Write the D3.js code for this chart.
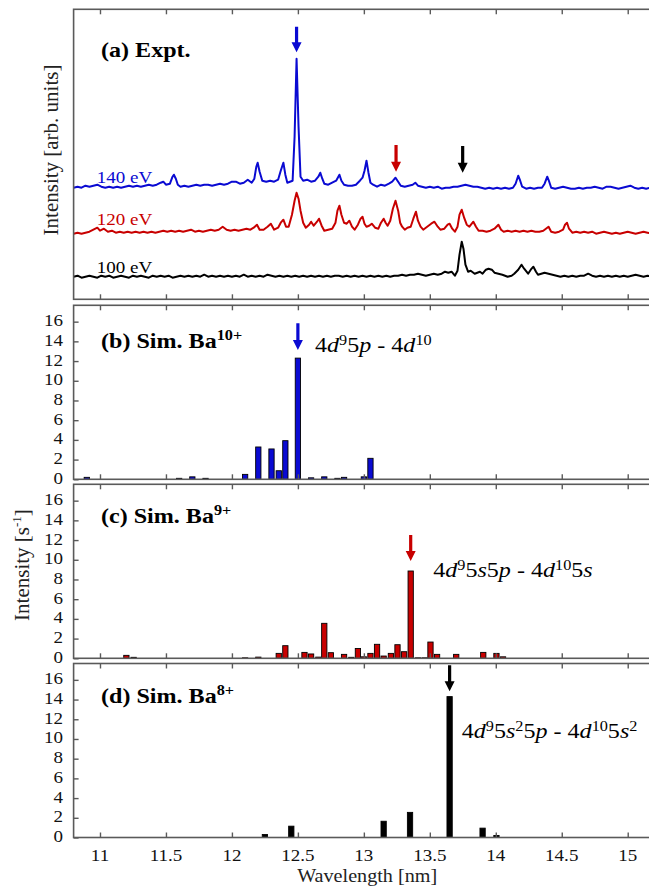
<!DOCTYPE html>
<html>
<head>
<meta charset="utf-8">
<script src="https://cdn.jsdelivr.net/npm/d3@7"></script>
<style>
  html, body { margin: 0; padding: 0; background: #fff; }
  svg { display: block; font-family: "Liberation Serif", "Times New Roman", serif; }
</style>
</head>
<body>
<svg id="chart" width="649" height="890"></svg>
<script>
// ---- axis ticks ----
const wavelengthTicks = [11, 11.5, 12, 12.5, 13, 13.5, 14, 14.5, 15];
const intensityTicks = [0, 2, 4, 6, 8, 10, 12, 14, 16];

// ---- (a) measured spectra: [wavelength nm, signal above trace baseline] ----
const expt140 = [
  [10.80,-1],[10.83,0],[10.86,-1],[10.89,1],[10.92,0],[10.95,1],[10.98,2],[11.01,0],[11.04,-1],[11.07,0],
  [11.10,-1],[11.13,0],[11.16,-1],[11.19,0],[11.22,1],[11.25,0],[11.28,1],[11.31,0],[11.34,1],[11.37,2],
  [11.40,1],[11.43,2],[11.46,4],[11.48,5],[11.50,2],[11.53,3],[11.55,10],[11.56,12],[11.575,8],[11.59,2],
  [11.61,0],[11.64,1],[11.67,0],[11.70,1],[11.73,2],[11.76,1],[11.79,2],[11.82,2],[11.85,1],[11.88,2],
  [11.91,3],[11.94,2],[11.97,3],[12.00,5],[12.03,5],[12.06,3],[12.09,4],[12.12,7],[12.15,4],[12.17,8],
  [12.185,20],[12.195,24],[12.21,15],[12.23,6],[12.26,5],[12.29,6],[12.32,5],[12.35,7],[12.37,16],[12.39,24],
  [12.405,12],[12.42,4],[12.44,5],[12.46,6],[12.475,50],[12.49,128],[12.505,60],[12.52,10],[12.54,6],[12.57,7],
  [12.60,5],[12.63,6],[12.655,10],[12.67,14],[12.685,8],[12.70,3],[12.73,2],[12.76,4],[12.79,6],[12.815,12],
  [12.83,6],[12.85,2],[12.88,1],[12.91,1],[12.94,2],[12.97,6],[12.99,9],[13.005,16],[13.02,26],[13.035,14],
  [13.05,4],[13.07,2],[13.10,0],[13.13,2],[13.16,1],[13.19,3],[13.215,5],[13.24,9],[13.26,5],[13.28,1],
  [13.31,0],[13.34,1],[13.37,2],[13.39,4],[13.41,1],[13.44,0],[13.47,-1],[13.50,0],[13.53,-1],[13.56,0],
  [13.59,-2],[13.62,-1],[13.65,-1],[13.68,0],[13.71,0],[13.74,1],[13.77,2],[13.80,1],[13.83,0],[13.86,0],
  [13.89,-1],[13.92,-2],[13.95,-1],[13.98,-2],[14.01,-1],[14.04,-2],[14.07,-1],[14.10,-2],[14.13,-1],[14.15,3],
  [14.17,11],[14.185,6],[14.20,0],[14.23,-2],[14.26,-1],[14.29,-2],[14.32,-1],[14.35,-1],[14.37,3],[14.39,10],
  [14.405,5],[14.42,-1],[14.45,-2],[14.48,-1],[14.51,0],[14.54,-1],[14.57,-2],[14.60,-2],[14.63,-1],[14.66,-2],
  [14.69,-1],[14.72,-1],[14.75,0],[14.78,-1],[14.81,-2],[14.84,0],[14.87,0],[14.90,-1],[14.93,-2],[14.96,-1],
  [14.99,0],[15.02,1],[15.05,-1],[15.08,-2],[15.11,-1],[15.14,-2],[15.17,-1],[15.20,-2],[15.25,-1]
];
const expt120 = [
  [10.80,-1],[10.83,0],[10.86,-1],[10.89,0],[10.92,1],[10.95,3],[10.98,5],[11.00,2],[11.03,4],[11.06,1],
  [11.09,2],[11.12,0],[11.15,1],[11.18,0],[11.21,1],[11.24,0],[11.27,1],[11.30,0],[11.33,1],[11.36,0],
  [11.39,1],[11.42,0],[11.45,1],[11.48,2],[11.51,1],[11.54,2],[11.57,1],[11.60,2],[11.63,1],[11.66,2],
  [11.69,3],[11.72,1],[11.75,2],[11.78,1],[11.81,2],[11.84,3],[11.87,2],[11.90,3],[11.93,6],[11.96,3],
  [11.99,2],[12.02,3],[12.05,2],[12.08,3],[12.11,4],[12.14,3],[12.165,5],[12.19,8],[12.21,3],[12.24,3],
  [12.27,6],[12.295,9],[12.32,3],[12.35,5],[12.37,10],[12.39,13],[12.41,6],[12.43,6],[12.455,18],[12.475,32],
  [12.49,40],[12.505,34],[12.52,22],[12.54,10],[12.56,5],[12.585,8],[12.60,11],[12.62,7],[12.645,11],[12.66,14],
  [12.68,7],[12.70,2],[12.73,3],[12.76,4],[12.785,10],[12.80,22],[12.815,27],[12.83,18],[12.85,10],[12.87,9],
  [12.89,12],[12.91,6],[12.93,3],[12.955,8],[12.975,14],[12.99,16],[13.005,9],[13.02,6],[13.04,7],[13.06,9],
  [13.085,5],[13.11,4],[13.13,10],[13.15,14],[13.165,10],[13.18,7],[13.20,12],[13.22,24],[13.24,32],[13.26,22],
  [13.275,10],[13.29,6],[13.31,3],[13.33,5],[13.355,6],[13.375,14],[13.395,21],[13.41,12],[13.43,6],[13.45,3],
  [13.48,6],[13.51,9],[13.535,11],[13.56,6],[13.58,3],[13.61,4],[13.635,8],[13.65,9],[13.67,4],[13.69,1],
  [13.71,6],[13.725,18],[13.742,23],[13.76,15],[13.78,8],[13.80,6],[13.83,11],[13.85,6],[13.87,2],[13.90,2],
  [13.93,1],[13.96,2],[13.99,4],[14.02,8],[14.04,3],[14.06,1],[14.09,2],[14.12,1],[14.15,2],[14.18,1],
  [14.21,2],[14.24,1],[14.27,2],[14.30,1],[14.33,1],[14.36,2],[14.38,4],[14.40,6],[14.42,1],[14.45,0],
  [14.48,1],[14.51,3],[14.525,8],[14.54,10],[14.555,4],[14.58,0],[14.61,1],[14.64,0],[14.67,1],[14.70,0],
  [14.73,1],[14.76,-1],[14.79,0],[14.82,1],[14.85,0],[14.88,-1],[14.91,0],[14.94,-1],[14.97,0],[15.00,1],
  [15.03,0],[15.06,-1],[15.09,0],[15.12,1],[15.15,0],[15.18,-1],[15.21,0],[15.25,1]
];
const expt100 = [
  [10.80,0],[10.83,1],[10.86,-1],[10.89,0],[10.92,1],[10.95,0],[10.98,-1],[11.01,1],[11.04,0],[11.07,1],
  [11.10,-1],[11.13,0],[11.16,1],[11.19,0],[11.22,-1],[11.25,1],[11.28,0],[11.31,1],[11.34,0],[11.37,-1],
  [11.40,1],[11.43,0],[11.46,1],[11.49,0],[11.52,1],[11.55,-1],[11.58,0],[11.61,1],[11.64,0],[11.67,1],
  [11.70,0],[11.73,1],[11.76,0],[11.79,2],[11.82,0],[11.85,1],[11.88,0],[11.91,1],[11.94,0],[11.97,1],
  [12.00,0],[12.03,1],[12.06,0],[12.09,2],[12.12,0],[12.15,1],[12.18,0],[12.21,1],[12.24,0],[12.27,2],
  [12.30,1],[12.33,0],[12.36,1],[12.39,0],[12.42,1],[12.45,0],[12.48,1],[12.51,0],[12.54,1],[12.57,0],
  [12.60,1],[12.63,0],[12.66,1],[12.69,0],[12.72,1],[12.75,0],[12.78,1],[12.81,1],[12.84,0],[12.87,1],
  [12.90,0],[12.93,1],[12.96,0],[12.99,1],[13.02,0],[13.05,1],[13.08,0],[13.11,1],[13.14,0],[13.17,1],
  [13.20,0],[13.23,1],[13.26,1],[13.29,2],[13.32,1],[13.35,2],[13.38,2],[13.41,3],[13.44,2],[13.47,1],
  [13.50,2],[13.53,3],[13.56,2],[13.59,3],[13.615,5],[13.64,4],[13.665,5],[13.69,1],[13.71,6],[13.725,22],
  [13.742,35],[13.755,28],[13.77,12],[13.79,5],[13.81,6],[13.84,3],[13.86,4],[13.88,5],[13.90,3],[13.925,7],
  [13.945,8],[13.97,7],[13.99,4],[14.02,3],[14.05,2],[14.07,1],[14.09,0],[14.12,1],[14.14,3],[14.17,7],
  [14.195,12],[14.215,8],[14.245,3],[14.265,7],[14.285,10],[14.305,5],[14.32,2],[14.345,3],[14.37,4],[14.40,3],
  [14.43,2],[14.46,1],[14.49,0],[14.52,1],[14.55,0],[14.58,1],[14.61,0],[14.64,1],[14.67,1],[14.70,3],
  [14.73,1],[14.76,0],[14.79,1],[14.82,0],[14.85,1],[14.88,0],[14.91,1],[14.94,0],[14.97,1],[15.00,0],
  [15.03,1],[15.06,2],[15.09,1],[15.12,0],[15.15,1],[15.18,0],[15.21,1],[15.25,0]
];
const exptLabels = ["140 eV", "120 eV", "100 eV"];
const exptOffsets = [112.6, 66.6, 22.6];

// ---- (b)-(d) simulated line intensities: [wavelength nm, intensity s^-1] ----
const ba10Lines = [
  [10.90,0.2],[11.60,0.1],[11.70,0.25],[11.80,0.1],[12.10,0.5],[12.20,3.28],[12.30,3.08],[12.355,0.87],
  [12.405,3.92],[12.50,12.3],[12.60,0.15],[12.70,0.25],[12.80,0.1],[12.85,0.2],[13.00,0.25],[13.05,2.13]
];
const ba9Lines = [
  [11.20,0.3],[11.255,0.1],[12.10,0.05],[12.20,0.12],[12.355,0.5],[12.405,1.28],[12.55,0.6],[12.60,0.44],
  [12.655,0.12],[12.70,3.55],[12.75,0.57],[12.85,0.4],[12.905,0.1],[12.955,1.0],[13.00,0.15],[13.05,0.5],
  [13.10,1.42],[13.15,0.23],[13.205,0.5],[13.255,1.38],[13.305,0.67],[13.355,8.86],[13.41,0.05],[13.46,0.05],
  [13.505,1.65],[13.555,0.4],[13.70,0.4],[13.905,0.6],[14.005,0.5],[14.055,0.15]
];
const ba8Lines = [
  [12.25,0.3],[12.45,1.15],[13.15,1.65],[13.35,2.55],[13.65,14.3],[13.90,0.95],[14.005,0.2]
];

// ---- layout ----
const svg = d3.select("#chart");
const SX = 1.12;                    // horizontal stretch of the lettering
const frameColor = "#5a5a5a";
const blue = "#0a0ad2", red = "#c80000", black = "#000";

const x = d3.scaleLinear().domain([10.8, 15.25]).range([73.6, 660.7]);
const left = x.range()[0], right = x.range()[1];

const yA = d3.scaleLinear().domain([0, 290]).range([299.3, 9.3]);
const simY = [
  d3.scaleLinear().domain([0, 17.66]).range([479.3, 305.3]),
  d3.scaleLinear().domain([0, 17.66]).range([658.3, 484.3]),
  d3.scaleLinear().domain([0, 17.66]).range([837.5, 663.5])
];

function stretchedText(g, px, py, size) {
  return g.append("text")
    .attr("transform", `translate(${px},${py}) scale(${SX},1)`)
    .attr("font-size", size);
}

// text made of plain, italic and superscript pieces
function richText(g, px, py, size, segs, opts = {}) {
  const t = stretchedText(g, px, py, size);
  if (opts.bold) t.attr("font-weight", "bold");
  if (opts.anchor) t.attr("text-anchor", opts.anchor);
  const supSize = opts.supSize || size * 0.66;
  const raise = opts.raise || size * 0.36;
  let raised = false;
  segs.forEach(s => {
    const seg = typeof s === "string" ? { t: s } : s;
    const sp = t.append("tspan").text(seg.t);
    if (seg.i) sp.attr("font-style", "italic");
    if (seg.sup) {
      sp.attr("font-size", supSize);
      if (!raised) { sp.attr("dy", -raise); raised = true; }
    } else if (raised) {
      sp.attr("dy", raise); raised = false;
    }
  });
  return t;
}

function downArrow(g, cx, yTail, yTip, color) {
  const shaft = 1.6, half = 5, head = 10;
  const p = d3.path();
  p.moveTo(cx - shaft, yTail);
  p.lineTo(cx + shaft, yTail);
  p.lineTo(cx + shaft, yTip - head);
  p.lineTo(cx + half, yTip - head);
  p.lineTo(cx, yTip);
  p.lineTo(cx - half, yTip - head);
  p.lineTo(cx - shaft, yTip - head);
  p.closePath();
  g.append("path").attr("d", p.toString()).attr("fill", color);
}

function frame(top, bottom) {
  const g = svg.append("g");
  g.append("rect")
    .attr("x", left).attr("y", top)
    .attr("width", right - left).attr("height", bottom - top)
    .attr("fill", "none").attr("stroke", frameColor).attr("stroke-width", 1.6);
  // inward x ticks on the top and bottom edges
  g.append("g").attr("transform", `translate(0,${top})`)
    .call(d3.axisBottom(x).tickValues(wavelengthTicks).tickSize(5).tickFormat(""))
    .call(a => a.select(".domain").remove())
    .selectAll("line").attr("stroke", frameColor).attr("stroke-width", 1.4);
  g.append("g").attr("transform", `translate(0,${bottom})`)
    .call(d3.axisTop(x).tickValues(wavelengthTicks).tickSize(5).tickFormat(""))
    .call(a => a.select(".domain").remove())
    .selectAll("line").attr("stroke", frameColor).attr("stroke-width", 1.4);
  return g;
}

// ---------- panel (a) ----------
const gA = svg.append("g");
const traces = [expt140, expt120, expt100];
const traceColors = [blue, red, black];
traces.forEach((tr, i) => {
  const line = d3.line()
    .x(d => x(d[0]))
    .y(d => yA(d[1] + exptOffsets[i]));
  gA.append("path").datum(tr)
    .attr("d", line)
    .attr("fill", "none")
    .attr("stroke", traceColors[i])
    .attr("stroke-width", 2)
    .attr("stroke-linejoin", "round");
});
const labelLift = [4, 7.4, 4];
exptLabels.forEach((lab, i) => {
  stretchedText(gA, x(10.975), yA(exptOffsets[i] + labelLift[i]), 17)
    .attr("fill", traceColors[i]).text(lab);
});
// markers on the strongest feature of each charge state
downArrow(gA, x(12.49), yA(272.6), yA(247), blue);
downArrow(gA, x(13.244), yA(154.3), yA(127.6), red);
downArrow(gA, x(13.749), yA(153.3), yA(126.6), black);
frame(yA.range()[1], yA.range()[0]);
richText(gA, left + 27.4, 57, 21.5, ["(a) Expt."], { bold: true });

// ---------- panels (b)-(d) ----------
const simSets = [ba10Lines, ba9Lines, ba8Lines];
const simFill = [blue, red, black];
const simStroke = [black, black, black];
const barHalf = 0.02;

simSets.forEach((set, k) => {
  const y = simY[k];
  const g = svg.append("g");
  g.selectAll("rect.bar").data(set).join("rect")
    .attr("class", "bar")
    .attr("x", d => x(d[0] - barHalf))
    .attr("width", d => x(d[0] + barHalf) - x(d[0] - barHalf))
    .attr("y", d => y(d[1]))
    .attr("height", d => y(0) - y(d[1]))
    .attr("fill", simFill[k])
    .attr("stroke", simStroke[k])
    .attr("stroke-width", 0.9);
  frame(y.range()[1], y.range()[0]);
  // y ticks (inward) and labels
  g.append("g").attr("transform", `translate(${left},0)`)
    .call(d3.axisRight(y).tickValues(intensityTicks).tickSize(5).tickFormat(""))
    .call(a => a.select(".domain").remove())
    .selectAll("line").attr("stroke", frameColor).attr("stroke-width", 1.4);
  intensityTicks.forEach(v => {
    stretchedText(g, left - 10.5, y(v) + 4.5, 17)
      .attr("text-anchor", "end").attr("fill", "#111").text(v);
  });
});

// panel titles
richText(svg, left + 27.4, simY[0](13.3), 21.5, ["(b) Sim. Ba", { t: "10+", sup: true }], { bold: true, supSize: 14.5, raise: 8 });
richText(svg, left + 27.4, simY[1](13.7), 21.5, ["(c) Sim. Ba", { t: "9+", sup: true }], { bold: true, supSize: 14.5, raise: 8 });
richText(svg, left + 27.4, simY[2](13.66), 21.5, ["(d) Sim. Ba", { t: "8+", sup: true }], { bold: true, supSize: 14.5, raise: 8 });

// transition arrows and labels
downArrow(svg, x(12.5), simY[0](15.84), simY[0](13.13), blue);
downArrow(svg, x(13.355), simY[1](12.52), simY[1](9.88), red);
downArrow(svg, x(13.65), simY[2](17.49), simY[2](14.85), black);

const annOpts = { supSize: 14.5, raise: 7 };
richText(svg, x(12.63), simY[0](12.95), 21.5,
  ["4", { t: "d", i: true }, { t: "9", sup: true }, "5", { t: "p", i: true }, " - 4", { t: "d", i: true }, { t: "10", sup: true }], annOpts);
richText(svg, x(13.526), simY[1](8.28), 21.5,
  ["4", { t: "d", i: true }, { t: "9", sup: true }, "5", { t: "s", i: true }, "5", { t: "p", i: true }, " - 4", { t: "d", i: true }, { t: "10", sup: true }, "5", { t: "s", i: true }], annOpts);
richText(svg, x(13.742), simY[2](10.1), 21.5,
  ["4", { t: "d", i: true }, { t: "9", sup: true }, "5", { t: "s", i: true }, { t: "2", sup: true }, "5", { t: "p", i: true }, " - 4", { t: "d", i: true }, { t: "10", sup: true }, "5", { t: "s", i: true }, { t: "2", sup: true }], annOpts);

// x tick labels under the bottom panel
const bottomY = simY[2].range()[0];
wavelengthTicks.forEach(v => {
  stretchedText(svg, x(v), bottomY + 23, 17)
    .attr("text-anchor", "middle").attr("fill", "#111").text(v);
});

// axis titles
stretchedText(svg, (left + right) / 2, 882, 18)
  .attr("text-anchor", "middle").attr("fill", "#222").text("Wavelength [nm]");

svg.append("text")
  .attr("transform", "translate(58,150) rotate(-90)")
  .attr("text-anchor", "middle").attr("font-size", 21).attr("fill", "#222")
  .text("Intensity [arb. units]");

const yt = svg.append("text")
  .attr("transform", "translate(29,565) rotate(-90)")
  .attr("text-anchor", "middle").attr("font-size", 21).attr("fill", "#222");
yt.append("tspan").text("Intensity [s");
yt.append("tspan").attr("font-size", 13).attr("dy", -8).text("-1");
yt.append("tspan").attr("dy", 8).text("]");
</script>
</body>
</html>
